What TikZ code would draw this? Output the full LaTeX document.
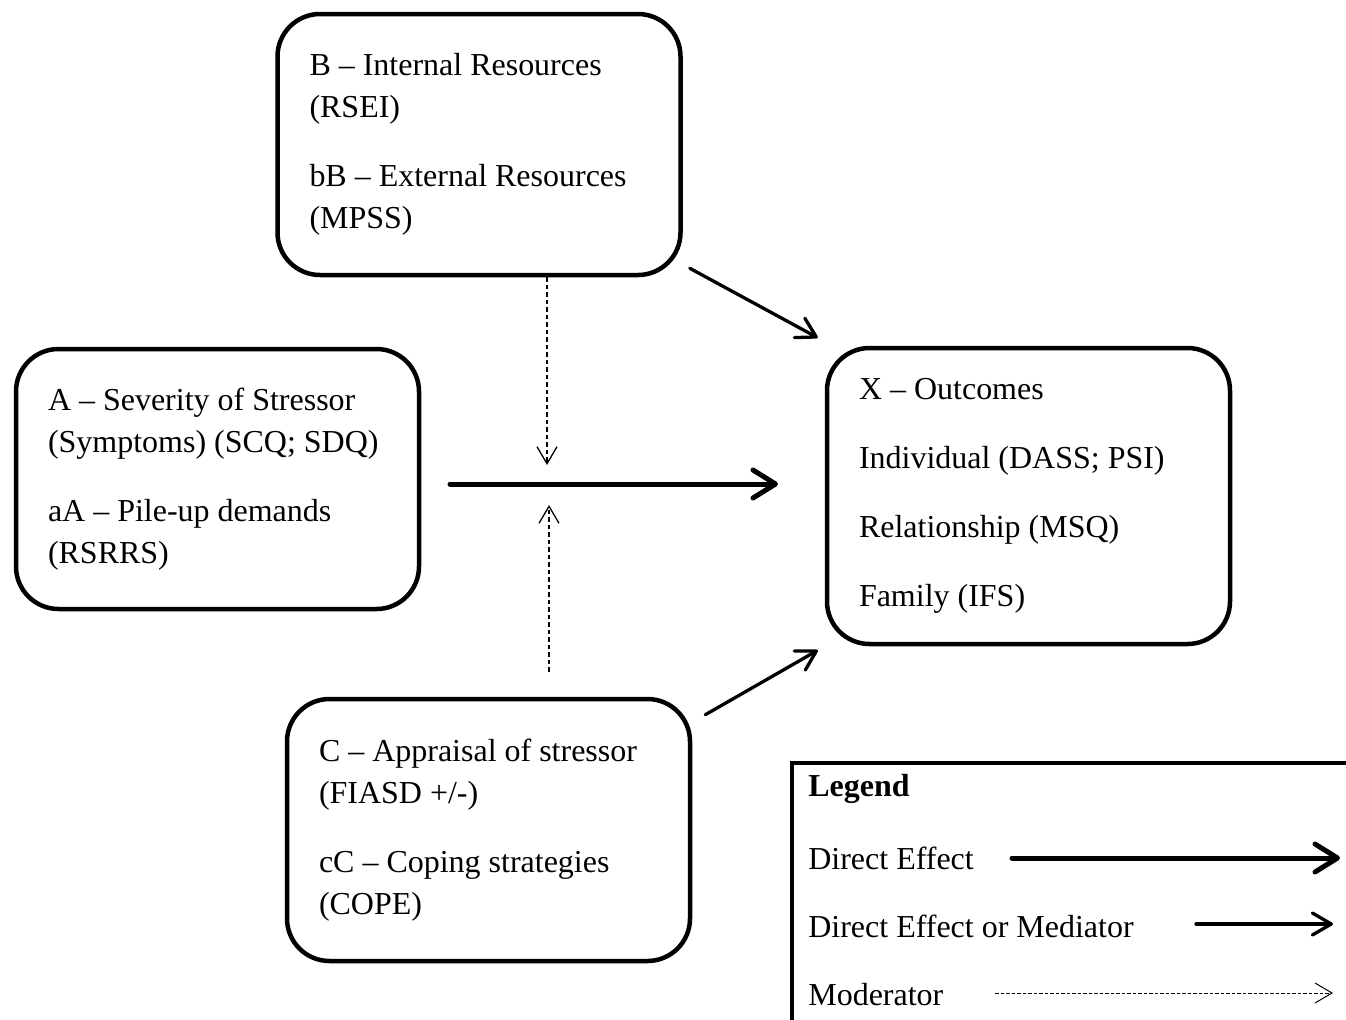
\documentclass[tikz,border=0pt]{standalone}
\usepackage{fontspec}
\setmainfont{Liberation Serif}
\usetikzlibrary{arrows.meta}

\begin{document}
\begin{tikzpicture}[
  font=\fontsize{18.2}{23.9}\selectfont,
  factor/.style={rectangle, draw=black, line width=0.09cm, rounded corners=0.85cm,
    minimum width=8.06cm, text width=6.78cm, inner xsep=0.64cm, align=flush left},
  legendbox/.style={rectangle, draw=black, line width=0.08cm},
  legtext/.style={anchor=west, inner sep=0pt},
  direct/.style={line width=0.1cm, line cap=round, -{Straight Barb[round, length=0.45cm, width=0.56cm]}},
  mediate/.style={line width=0.066cm, line cap=round, -{Straight Barb[round, length=0.38cm, width=0.44cm]}},
  moderate/.style={line width=0.026cm, dash pattern=on 0.09cm off 0.06cm, -{Straight Barb[length=0.34cm, width=0.4cm]}}
]
  \path[clip, use as bounding box] (0,0) rectangle (26.92,-20.4);

  % the four factor boxes
  \node[factor, minimum height=5.22cm] (B) at (9.58,-2.89)
    {B -- Internal Resources\\(RSEI)\\[0.54cm]bB -- External Resources\\(MPSS)};
  \node[factor, minimum height=5.2cm] (A) at (4.35,-9.58)
    {A -- Severity of Stressor\\(Symptoms) (SCQ; SDQ)\\[0.54cm]aA -- Pile-up demands\\(RSRRS)};
  \node[factor, minimum height=5.92cm] (X) at (20.57,-9.92)
    {X -- Outcomes\\[0.54cm]Individual (DASS; PSI)\\[0.54cm]Relationship (MSQ)\\[0.54cm]Family (IFS)};
  \node[factor, minimum height=5.24cm] (C) at (9.77,-16.6)
    {C -- Appraisal of stressor\\(FIASD +/-)\\[0.54cm]cC -- Coping strategies\\(COPE)};

  % main effect and moderators
  \coordinate (fromA) at (9.0,-9.68);
  \coordinate (toX) at (15.56,-9.68);
  \coordinate (modtop) at (10.94,-9.3);
  \coordinate (modbot) at (10.98,-10.1);
  \draw[direct] (fromA) -- (toX);
  \draw[moderate] (modtop |- B.south) -- (modtop);
  \draw[moderate, shorten <=0.5cm] (modbot |- C.north) -- (modbot);
  \draw[mediate] ([shift={(0.14,0.18)}]B.south east) -- ([shift={(-0.14,0.16)}]X.north west);
  \draw[mediate] ([shift={(0.26,-0.36)}]C.north east) -- ([shift={(-0.14,-0.08)}]X.south west);

  % legend
  \node[legendbox, minimum width=12cm, minimum height=6cm, anchor=north west] (legend) at (15.8,-15.22) {};
  \node[legtext] (legtitle) at (16.16,-15.78) {\textbf{Legend}};
  \node[legtext] (legdirect) at (16.16,-17.16) {Direct Effect};
  \node[legtext] (legmediate) at (16.16,-18.52) {Direct Effect or Mediator};
  \node[legtext] (legmoderate) at (16.16,-19.9) {Moderator};
  \coordinate (d1) at (20.24,-17.16);
  \coordinate (d2) at (26.8,-17.16);
  \coordinate (m1) at (23.92,-18.48);
  \coordinate (m2) at (26.66,-18.48);
  \coordinate (o1) at (19.9,-19.86);
  \coordinate (o2) at (26.66,-19.86);
  \draw[direct] (d1) -- (d2);
  \draw[mediate] (m1) -- (m2);
  \draw[moderate, line width=0.02cm, dash pattern=on 0.07cm off 0.04cm] (o1) -- (o2);
\end{tikzpicture}
\end{document}
